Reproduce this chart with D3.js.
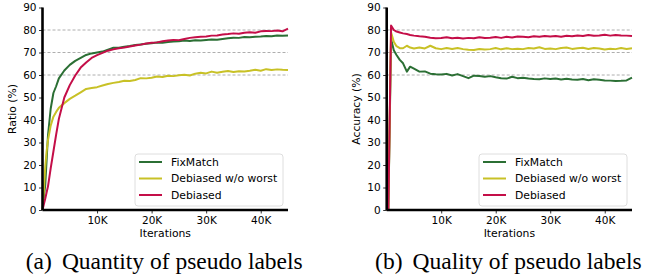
<!DOCTYPE html>
<html>
<head>
<meta charset="utf-8">
<script src="https://cdn.jsdelivr.net/npm/d3@7"></script>
<style>
  body { margin: 0; background: #fff; }
  svg { display: block; }
</style>
</head>
<body>
<div id="chart"></div>
<script>
// iterations for the quantity plot (a)
var qIters = [0, 250, 500, 750, 1000, 1500, 2000, 2500,
  3000, 4000, 5000, 6000, 7000, 8000, 9000, 10000, 11000, 12000, 13000, 14000,
  15000, 16000, 17000, 18000, 19000, 20000, 21000, 22000, 23000, 24000, 25000,
  26000, 27000, 28000, 29000, 30000, 31000, 32000, 33000, 34000, 35000, 36000,
  37000, 38000, 39000, 40000, 41000, 42000, 43000, 44000, 45000]
var qFix = [0, 6, 11, 22, 33, 45, 52, 55,
  58.5, 62, 64.5, 66.3, 67.6, 68.9, 69.6, 70, 70.4, 71.3, 72.1, 72.1,
  72.6, 72.9, 73.3, 73.6, 73.9, 74.1, 74.4, 74.3, 74.7, 74.9, 75,
  75.3, 75.1, 75.4, 75.3, 75.6, 75.8, 75.7, 76, 76.3, 76.6, 76.5,
  76.9, 76.8, 77, 77.1, 77.3, 77.2, 77.6, 77.4, 77.6]
var qNoWorst = [0, 9, 19, 26, 31, 37.5, 41.5, 43.6,
  45.4, 47.5, 49.4, 50.8, 52.3, 53.8, 54.2, 54.6, 55.3, 56, 56.5, 56.9,
  57.4, 57.3, 57.8, 58.6, 58.5, 58.8, 59.3, 59.1, 59.7, 59.5, 59.9,
  60.1, 59.8, 60.6, 61, 60.7, 61.5, 61, 61.4, 61.8, 61.3, 61.7,
  61.6, 61.9, 62.3, 61.9, 62.6, 62.2, 62.5, 62.3, 62.2]
var qDebiased = [0, 2.5, 5, 7.8, 10.4, 18.5, 26, 33.5,
  40.5, 50, 55.5, 59.8, 63.3, 65.6, 67.6, 68.8, 69.8, 70.8, 71.4, 71.9,
  72.2, 72.7, 73.1, 73.5, 74, 74.3, 74.5, 75, 75.3, 75.6, 75.5,
  76, 76.5, 76.8, 77, 77.1, 77.5, 77.6, 78, 78.2, 78.5, 78.3,
  78.8, 79, 78.8, 79.4, 79.6, 79.5, 79.8, 79.4, 80.6]

// iterations for the quality plot (b)
var aIters = [0, 300, 800, 1300, 1800, 2400, 3000, 3700, 4300,
  5000, 6000, 7000, 8000, 9000, 10000, 11000, 12000, 13000, 14000, 15000,
  16000, 17000, 18000, 19000, 20000, 21000, 22000, 23000, 24000, 25000,
  26000, 27000, 28000, 29000, 30000, 31000, 32000, 33000, 34000, 35000,
  36000, 37000, 38000, 39000, 40000, 41000, 42000, 43000, 44000, 45000]
var aFix = [0, 0, 76, 71, 68.9, 66.7, 65.2, 61.5, 63.7,
  62.8, 61.5, 61.6, 60.6, 60.3, 60.2, 60.5, 59.8, 60.4, 59.5, 58.6,
  59.7, 59.6, 59.2, 59.5, 59, 58.6, 58.4, 59.2, 58.6, 58.8,
  58.4, 58.2, 58.1, 58.5, 58.2, 58.4, 58, 58.3, 58, 57.9,
  58.2, 57.7, 58.1, 57.9, 57.6, 57.5, 57.3, 57.4, 57.6, 58.8]
var aNoWorst = [0, 0, 79, 74.8, 72.8, 71.9, 71.9, 73, 72.2,
  71.8, 72.2, 71.8, 73, 71.9, 71.5, 72, 71.6, 72, 71.5, 71.2,
  71.1, 71.6, 71.3, 71.5, 72, 71.4, 71.9, 71.5, 71.7, 71.5,
  72, 71.8, 72.3, 71.6, 71.8, 71.5, 72, 72.2, 71.6, 71.9,
  72.1, 71.6, 72, 71.8, 71.3, 71.7, 71.5, 72, 71.6, 71.9]
var aDebiased = [0, 0, 82, 80, 79.3, 78.9, 78.5, 78.2, 77.8,
  77.5, 77.2, 77, 76.6, 76.3, 76.4, 76.8, 76.3, 76.6, 76.2, 76.5,
  76.3, 76.8, 76.4, 76.6, 76.9, 76.5, 77, 76.7, 77.1, 77,
  76.8, 77.2, 77, 77.3, 77.1, 77.3, 77, 77.4, 77.2, 77.6,
  77.3, 77.8, 77.4, 77.6, 77.9, 77.5, 77.8, 77.6, 77.5, 77.3]

var seriesNames = ["FixMatch", "Debiased w/o worst", "Debiased"]
var seriesColors = ["#2b6f34", "#c8c126", "#c40e48"]
var yTicks = [0, 10, 20, 30, 40, 50, 60, 70, 80, 90]
var xTicks = [10000, 20000, 30000, 40000]
var gridValues = [60, 70, 80]

var W = 645, H = 278
var svg = d3.select("#chart").append("svg")
  .attr("width", W)
  .attr("height", H)

function drawPanel(left, right, iters, series, yLabel, tag, caption) {
  var x = d3.scaleLinear().domain([0, 45000]).range([left, right])
  var y = d3.scaleLinear().domain([0, 90]).range([210, 7.5])
  var g = svg.append("g")

  // dashed grid
  g.selectAll(".grid").data(gridValues).enter().append("line")
    .attr("x1", left).attr("x2", right)
    .attr("y1", function(d) { return y(d) }).attr("y2", function(d) { return y(d) })
    .attr("stroke", "#999")
    .attr("stroke-width", 0.8)
    .attr("stroke-dasharray", "3,2")

  var line = d3.line()
    .x(function(d, i) { return x(iters[i]) })
    .y(function(d) { return y(d) })
  series.forEach(function(s, k) {
    g.append("path")
      .attr("d", line(s))
      .attr("fill", "none")
      .attr("stroke", seriesColors[k])
      .attr("stroke-width", 2)
      .attr("stroke-linejoin", "round")
  })

  var yAxis = g.append("g")
    .attr("transform", "translate(" + left + ",0)")
    .call(d3.axisLeft(y).tickValues(yTicks).tickSize(3.5).tickPadding(2.5))
  var xAxis = g.append("g")
    .attr("transform", "translate(0,210)")
    .call(d3.axisBottom(x).tickValues(xTicks).tickSize(3.5).tickPadding(3)
      .tickFormat(function(d) { return (d / 1000) + "K" }))
  ;[yAxis, xAxis].forEach(function(a) {
    a.select(".domain").attr("stroke", "#000").attr("stroke-width", 2.6)
    a.selectAll(".tick line").attr("stroke", "#000").attr("stroke-width", 0.8)
    a.selectAll("text")
      .attr("fill", "#000")
      .style("font-family", "DejaVu Sans")
      .style("font-size", "10.5px")
  })
  yAxis.select(".domain").attr("d", "M0," + y(0) + "V" + y(90))
  xAxis.select(".domain").attr("d", "M" + left + ",0H" + right)

  g.append("text")
    .attr("transform", "translate(" + (left - 27) + ",109) rotate(-90)")
    .attr("text-anchor", "middle")
    .style("font-family", "DejaVu Sans")
    .style("font-size", "10.8px")
    .text(yLabel)
  g.append("text")
    .attr("x", (left + right) / 2)
    .attr("y", 237)
    .attr("text-anchor", "middle")
    .style("font-family", "DejaVu Sans")
    .style("font-size", "10.8px")
    .text("Iterations")

  // legend
  var lx = right - 153, ly = 154
  var legend = g.append("g")
  legend.append("rect")
    .attr("x", lx).attr("y", ly)
    .attr("width", 148).attr("height", 52)
    .attr("rx", 3)
    .attr("fill", "#fff").attr("fill-opacity", 0.8)
    .attr("stroke", "#d6d6d6").attr("stroke-width", 0.8)
  seriesNames.forEach(function(name, k) {
    var ry = ly + 8 + k * 16.5
    legend.append("line")
      .attr("x1", lx + 4).attr("x2", lx + 27)
      .attr("y1", ry).attr("y2", ry)
      .attr("stroke", seriesColors[k]).attr("stroke-width", 2)
    legend.append("text")
      .attr("x", lx + 36).attr("y", ry + 3.9)
      .style("font-family", "DejaVu Sans")
      .style("font-size", "10.8px")
      .text(name)
  })

  var cap = svg.append("text")
    .attr("x", (left + right) / 2 - 1)
    .attr("y", 269)
    .attr("text-anchor", "middle")
    .style("font-family", "Liberation Serif")
    .style("font-size", "23.5px")
  cap.append("tspan").text(tag)
  cap.append("tspan").attr("dx", 10).text(caption)
}

drawPanel(42.5, 288, qIters, [qFix, qNoWorst, qDebiased], "Ratio (%)", "(a)", "Quantity of pseudo labels")
drawPanel(386.7, 632, aIters, [aFix, aNoWorst, aDebiased], "Accuracy (%)", "(b)", "Quality of pseudo labels")
</script>
</body>
</html>
